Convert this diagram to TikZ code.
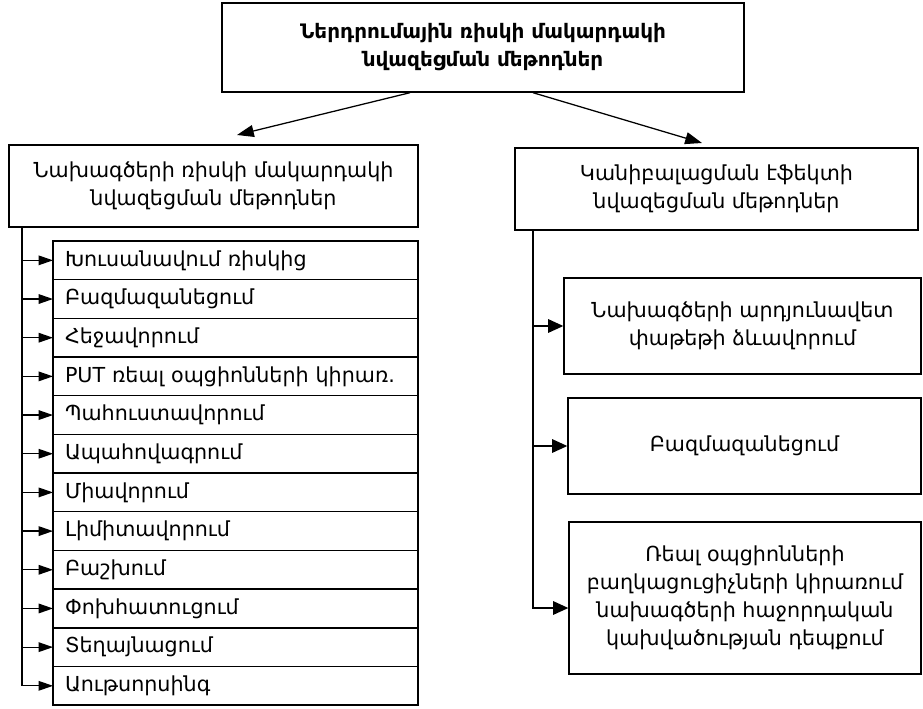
\documentclass[tikz,border=0pt]{standalone}
\usepackage{fontspec}
\setmainfont{DejaVu Sans}
\usetikzlibrary{arrows.meta,positioning,calc}
\tikzset{
  >={Triangle[length=3.6mm,width=2.4mm]},
  bigarrow/.style={-{Triangle[length=4.2mm,width=3mm]}, line width=0.9pt},
  headbox/.style={draw, line width=1pt, align=center, inner sep=1mm},
  item/.style={draw, line width=1pt, align=left, minimum width=91.25mm, minimum height=9.67mm, text width=85.25mm, inner xsep=3mm, inner ysep=0pt, outer sep=0pt},
  subbox/.style={draw, line width=1pt, align=center, inner sep=1mm},
  link/.style={->, line width=0.9pt},
  rlink/.style={-{Triangle[length=3.8mm,width=3.4mm]}, line width=0.9pt},
}

\begin{document}
\begin{tikzpicture}[font=\fontsize{14.7}{20}\selectfont]
  \useasboundingbox (0,0) rectangle (230.75mm,-177mm);

  \node[headbox, minimum width=130.5mm, minimum height=22.25mm, font=\fontsize{14.2}{20}\selectfont\bfseries] (top) at (120.75mm,-11.875mm)
    {Ներդրումային ռիսկի մակարդակի\\նվազեցման մեթոդներ};
  \node[headbox, minimum width=102.25mm, minimum height=20.5mm] (proj) at (53.375mm,-46.5mm)
    {Նախագծերի ռիսկի մակարդակի\\նվազեցման մեթոդներ};
  \node[headbox, minimum width=100.75mm, minimum height=20.5mm] (cann) at (179.125mm,-47.25mm)
    {Կանիբալացման էֆեկտի\\նվազեցման մեթոդներ};

  % left list
  \node[item, anchor=north west] (i1) at (13.25mm,-60.25mm) {Խուսանավում ռիսկից};
  \node[item, below=0pt of i1] (i2) {Բազմազանեցում};
  \node[item, below=0pt of i2] (i3) {Հեջավորում};
  \node[item, below=0pt of i3] (i4) {PUT ռեալ օպցիոնների կիրառ.};
  \node[item, below=0pt of i4] (i5) {Պահուստավորում};
  \node[item, below=0pt of i5] (i6) {Ապահովագրում};
  \node[item, below=0pt of i6] (i7) {Միավորում};
  \node[item, below=0pt of i7] (i8) {Լիմիտավորում};
  \node[item, below=0pt of i8] (i9) {Բաշխում};
  \node[item, below=0pt of i9] (i10) {Փոխհատուցում};
  \node[item, below=0pt of i10] (i11) {Տեղայնացում};
  \node[item, below=0pt of i11] (i12) {Աութսորսինգ};

  % right list
  \node[subbox, minimum width=89.25mm, minimum height=24mm] (ra) at (185.625mm,-81.5mm)
    {Նախագծերի արդյունավետ\\փաթեթի ձևավորում};
  \node[subbox, minimum width=88.25mm, minimum height=24mm] (rb) at (186.125mm,-111.5mm)
    {Բազմազանեցում};
  \node[subbox, minimum width=88mm, minimum height=38mm] (rc) at (186.25mm,-149.5mm)
    {Ռեալ օպցիոնների\\բաղկացուցիչների կիրառում\\նախագծերի հաջորդական\\կախվածության դեպքում};

  \coordinate (lin) at (59.25mm,-33.75mm);
  \coordinate (rin) at (175.5mm,-35.75mm);
  \coordinate (ltrunk) at (5.5mm,-56.75mm);
  \coordinate (rtrunk) at (133.25mm,-57.5mm);

  \draw[bigarrow] ([xshift=-18.25mm]top.south) -- (lin);
  \draw[bigarrow] ([xshift=12.5mm]top.south) -- (rin);

  \draw[link] (ltrunk) |- (i12.west);
  \draw[link] (ltrunk |- i1.west) -- (i1.west);
  \draw[link] (ltrunk |- i2.west) -- (i2.west);
  \draw[link] (ltrunk |- i3.west) -- (i3.west);
  \draw[link] (ltrunk |- i4.west) -- (i4.west);
  \draw[link] (ltrunk |- i5.west) -- (i5.west);
  \draw[link] (ltrunk |- i6.west) -- (i6.west);
  \draw[link] (ltrunk |- i7.west) -- (i7.west);
  \draw[link] (ltrunk |- i8.west) -- (i8.west);
  \draw[link] (ltrunk |- i9.west) -- (i9.west);
  \draw[link] (ltrunk |- i10.west) -- (i10.west);
  \draw[link] (ltrunk |- i11.west) -- (i11.west);

  \draw[rlink] (rtrunk) |- ([yshift=-2.5mm]rc.west);
  \draw[rlink] (rtrunk |- ra.west) -- (ra.west);
  \draw[rlink] (rtrunk |- rb.west) -- (rb.west);
\end{tikzpicture}
\end{document}
